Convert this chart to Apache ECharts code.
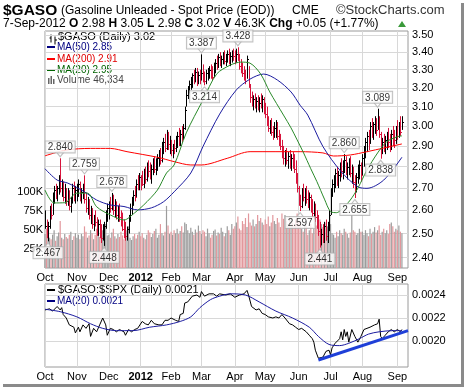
<!DOCTYPE html>
<html><head><meta charset="utf-8">
<script src="https://cdn.jsdelivr.net/npm/echarts@6/dist/echarts.min.js"></script>
<style>html,body{margin:0;padding:0;background:#fff}#c{width:464px;height:387px}</style>
</head><body><div id="c"></div>
<script>
// ---------- categories ----------
const monthLabels = ['Oct','Nov','Dec','2012','Feb','Mar','Apr','May','Jun','Jul','Aug','Sep'];
const monthDays   = [21,21,21,20,20,22,20,22,21,21,23,4];   // trading days per month (Oct 2011 .. 7-Sep-2012)
const extraSlots  = 4;                                       // empty days at right edge

// ---------- daily price bars ($GASO) ----------
const high = [
 2.60,2.56,2.55,2.62,2.63,2.68,2.71,2.72,2.71,2.76,2.84,2.74,2.73,2.72,2.70,2.70,2.69,2.66,2.72,2.73,2.71,
 2.72,2.74,2.73,2.70,2.72,2.759,2.68,2.66,2.65,2.62,2.61,2.58,2.60,2.57,2.56,2.56,2.54,2.54,2.55,2.60,2.63,
 2.64,2.66,2.678,2.67,2.65,2.64,2.62,2.63,2.60,2.59,2.56,2.55,2.53,2.58,2.63,2.66,2.69,2.71,2.74,2.76,2.77,
 2.76,2.78,2.79,2.80,2.82,2.83,2.82,2.81,2.84,2.85,2.84,2.86,2.88,2.89,2.92,2.94,2.96,2.98,2.97,2.95,
 2.93,2.91,2.93,2.95,2.97,2.99,2.98,3.00,3.01,3.10,3.19,3.21,3.24,3.26,3.28,3.30,3.31,3.31,3.29,3.30,
 3.387,3.33,3.29,3.30,3.31,3.32,3.33,3.32,3.34,3.36,3.38,3.39,3.40,3.38,3.40,3.41,3.39,3.41,3.42,3.40,3.41,3.42,
 3.41,3.42,3.428,3.39,3.36,3.34,3.32,3.30,3.38,3.32,3.22,3.18,3.16,3.17,3.15,3.16,3.15,3.17,3.16,3.15,
 3.12,3.10,3.05,3.03,3.04,3.00,3.02,3.03,3.02,2.98,2.96,2.93,2.90,2.88,2.89,2.87,2.88,2.86,2.87,2.86,2.83,2.77,
 2.71,2.67,2.70,2.72,2.70,2.71,2.69,2.68,2.67,2.65,2.64,2.63,2.60,2.58,2.55,2.52,2.54,2.55,2.56,2.55,2.60,
 2.70,2.74,2.76,2.79,2.80,2.78,2.82,2.84,2.83,2.860,2.85,2.82,2.84,2.85,2.81,2.80,2.76,2.77,2.81,2.83,2.82,
 2.86,2.90,2.94,2.97,2.98,3.02,3.04,3.02,3.05,3.04,3.089,3.05,2.97,2.94,2.96,2.95,2.97,2.99,2.96,2.98,3.00,2.98,3.00,
 3.03,3.02,3.05,3.05
];
const low = [
 2.52,2.48,2.467,2.52,2.56,2.58,2.63,2.65,2.64,2.67,2.68,2.66,2.64,2.63,2.62,2.62,2.60,2.59,2.63,2.64,2.63,
 2.64,2.66,2.64,2.63,2.65,2.63,2.59,2.58,2.56,2.54,2.52,2.51,2.53,2.49,2.49,2.48,2.46,2.47,2.448,2.52,2.55,
 2.56,2.59,2.60,2.58,2.57,2.56,2.55,2.55,2.53,2.51,2.48,2.47,2.47,2.50,2.55,2.58,2.62,2.64,2.66,2.69,2.69,
 2.69,2.71,2.70,2.72,2.73,2.75,2.74,2.72,2.76,2.77,2.76,2.78,2.80,2.81,2.82,2.86,2.87,2.88,2.88,2.86,
 2.85,2.84,2.86,2.87,2.89,2.90,2.90,2.92,2.93,2.98,3.10,3.14,3.17,3.19,3.20,3.22,3.23,3.21,3.22,3.22,
 3.24,3.23,3.214,3.22,3.24,3.25,3.25,3.24,3.26,3.28,3.30,3.31,3.32,3.31,3.33,3.33,3.32,3.34,3.33,3.32,3.34,3.35,
 3.33,3.34,3.35,3.30,3.28,3.26,3.24,3.22,3.25,3.20,3.12,3.10,3.08,3.09,3.07,3.08,3.07,3.09,3.07,3.06,
 3.04,3.00,2.97,2.96,2.95,2.93,2.94,2.94,2.93,2.90,2.88,2.84,2.81,2.80,2.81,2.79,2.79,2.78,2.79,2.77,2.72,2.68,
 2.62,2.597,2.61,2.64,2.62,2.63,2.61,2.60,2.59,2.57,2.56,2.55,2.52,2.49,2.441,2.45,2.46,2.46,2.47,2.46,2.51,
 2.58,2.66,2.68,2.70,2.71,2.70,2.73,2.75,2.74,2.77,2.76,2.74,2.76,2.75,2.72,2.70,2.655,2.68,2.72,2.74,2.73,
 2.76,2.80,2.84,2.87,2.88,2.91,2.94,2.93,2.96,2.95,2.98,2.94,2.838,2.86,2.87,2.86,2.88,2.89,2.87,2.88,2.90,2.89,2.91,
 2.93,2.94,2.95,2.98
];
const close = [
 2.53,2.50,2.53,2.60,2.58,2.66,2.69,2.67,2.70,2.74,2.70,2.71,2.66,2.68,2.64,2.67,2.62,2.64,2.70,2.66,2.69,
 2.70,2.72,2.66,2.68,2.71,2.65,2.61,2.63,2.58,2.60,2.54,2.56,2.55,2.51,2.54,2.50,2.48,2.49,2.53,2.58,2.61,
 2.62,2.61,2.65,2.60,2.63,2.58,2.60,2.57,2.55,2.52,2.50,2.49,2.52,2.57,2.61,2.64,2.67,2.66,2.72,2.71,2.75,
 2.74,2.72,2.77,2.74,2.80,2.78,2.76,2.79,2.82,2.79,2.82,2.84,2.86,2.83,2.90,2.92,2.89,2.95,2.91,2.93,
 2.88,2.90,2.89,2.93,2.95,2.92,2.96,2.94,2.99,3.08,3.16,3.19,3.22,3.24,3.27,3.25,3.29,3.23,3.27,3.26,
 3.28,3.25,3.24,3.28,3.29,3.30,3.27,3.26,3.32,3.34,3.32,3.37,3.35,3.36,3.38,3.35,3.37,3.39,3.36,3.38,3.40,3.38,
 3.36,3.39,3.37,3.32,3.30,3.28,3.26,3.24,3.36,3.22,3.15,3.13,3.14,3.11,3.13,3.10,3.12,3.11,3.14,3.09,
 3.06,3.02,2.99,3.01,2.97,2.95,2.99,3.01,2.95,2.93,2.90,2.86,2.84,2.86,2.83,2.85,2.81,2.84,2.82,2.79,2.74,2.70,
 2.64,2.62,2.68,2.66,2.69,2.65,2.63,2.66,2.61,2.59,2.62,2.57,2.54,2.51,2.47,2.50,2.48,2.53,2.49,2.52,2.58,
 2.68,2.72,2.74,2.77,2.73,2.76,2.80,2.78,2.81,2.83,2.78,2.80,2.82,2.77,2.79,2.73,2.70,2.75,2.79,2.81,2.76,
 2.84,2.88,2.92,2.95,2.93,3.00,2.97,3.01,3.03,2.98,3.04,2.96,2.90,2.92,2.89,2.93,2.95,2.92,2.90,2.96,2.94,2.93,2.97,
 2.95,3.00,2.97,3.02
];
// daily volume, thousands
const volumeK = [
 45,52,58,40,38,44,50,36,42,47,62,40,38,45,41,39,44,48,37,42,46,
 40,44,38,45,42,55,48,40,43,50,46,38,44,52,47,41,45,50,36,58,43,
 44,40,47,52,42,39,45,41,48,43,38,46,50,55,40,37,42,45,39,44,48,
 42,46,40,38,44,50,47,41,45,49,52,40,44,58,46,43,48,82,56,45,
 48,44,50,46,52,45,49,55,47,60,58,50,46,53,48,44,51,47,56,49,
 45,50,48,42,52,46,40,44,49,51,43,47,45,53,48,42,46,55,50,44,58,52,
 55,60,68,52,50,62,58,66,54,72,60,56,64,55,58,70,62,66,60,57,
 64,58,68,55,60,70,62,58,66,60,54,72,65,70,62,58,68,66,60,56,64,72,
 62,58,52,48,60,55,44,50,58,46,52,62,56,60,64,58,54,48,60,55,50,
 58,46,44,40,48,42,50,46,44,52,48,45,40,47,70,50,48,44,46,52,48,
 48,44,50,46,42,52,45,48,54,47,50,56,44,48,52,46,50,45,58,60,55,48,52,
 50,56,48,46
];
// moving averages: [day index, value]
const ma50 = [[0,2.79],[8,2.737],[15,2.723],[26,2.683],[34,2.646],[43,2.624],[52,2.617],[61,2.602],[70,2.611],[78,2.638],[85,2.683],[96,2.77],[104,2.897],[115,3.061],[126,3.189],[135,3.248],[144,3.276],[153,3.243],[162,3.178],[168,3.107],[173,3.056],[183,2.897],[195,2.776],[206,2.706],[212,2.699],[223,2.737],[235,2.845]];
const ma200 = [[0,2.852],[14,2.88],[30,2.888],[43,2.888],[54,2.872],[74,2.845],[85,2.824],[96,2.808],[103,2.808],[120,2.84],[135,2.872],[168,2.872],[183,2.866],[190,2.851],[201,2.856],[212,2.872],[223,2.89],[235,2.91]];
const ma20 = [[0,2.691],[6,2.633],[13,2.634],[21,2.677],[28,2.677],[34,2.616],[43,2.58],[52,2.558],[59,2.589],[65,2.624],[74,2.691],[80,2.77],[85,2.808],[93,2.965],[104,3.135],[113,3.276],[122,3.326],[129,3.343],[135,3.337],[142,3.276],[148,3.178],[157,3.056],[162,2.99],[166,2.93],[170,2.87],[175,2.79],[179,2.73],[184,2.65],[188,2.595],[192,2.59],[195,2.602],[201,2.646],[206,2.70],[212,2.784],[219,2.866],[225,2.921],[232,2.946],[235,2.95]];
// swing-point callouts
const calloutIdx  = [2,10,26,39,44,103,105,127,168,181,197,204,219,221];
const calloutVal  = [2.467,2.840,2.759,2.448,2.678,3.387,3.214,3.428,2.597,2.441,2.860,2.655,3.089,2.838];
const calloutSide = ['low','high','high','low','high','high','low','high','low','low','high','low','high','low'];
// $GASO:$SPX ratio and its MA(20): [day index, value]
const ratio = [[0,0.00227],[3,0.00228],[5,0.00226],[8,0.00230],[10,0.00227],[11,0.00229],[12,0.00223],[14,0.00220],[16,0.00214],[19,0.00212],[20,0.00207],[22,0.00212],[23,0.00208],[25,0.00214],[27,0.00211],[29,0.00215],[30,0.00204],[32,0.00211],[34,0.00208],[36,0.00214],[38,0.00220],[40,0.00214],[41,0.00205],[43,0.00211],[45,0.00210],[47,0.00208],[49,0.00210],[52,0.00208],[53,0.00205],[55,0.00210],[57,0.00208],[59,0.00210],[61,0.00211],[64,0.00217],[66,0.00215],[68,0.00214],[70,0.00218],[72,0.00215],[75,0.00214],[77,0.00214],[79,0.00218],[81,0.00218],[83,0.00220],[86,0.00218],[88,0.00217],[89,0.00223],[91,0.00224],[92,0.00233],[94,0.00234],[97,0.00239],[100,0.00240],[102,0.00238],[103,0.00243],[105,0.00239],[108,0.00241],[111,0.00241],[113,0.00239],[115,0.00241],[119,0.00240],[122,0.00241],[123,0.00240],[125,0.00238],[128,0.00240],[131,0.00241],[133,0.00244],[134,0.00240],[136,0.00230],[139,0.00227],[141,0.00228],[143,0.00224],[145,0.00223],[147,0.00221],[150,0.00220],[152,0.00221],[154,0.00220],[156,0.00223],[158,0.00220],[161,0.00215],[163,0.00214],[165,0.00212],[167,0.00210],[169,0.00211],[172,0.00208],[174,0.00205],[176,0.00202],[177,0.00199],[178,0.00192],[180,0.00185],[181,0.00186],[183,0.00186],[185,0.00191],[187,0.00192],[188,0.00188],[189,0.00194],[191,0.00198],[194,0.00202],[195,0.00208],[196,0.00201],[197,0.00210],[198,0.00204],[199,0.00208],[200,0.00199],[202,0.00210],[204,0.00204],[206,0.00199],[208,0.00204],[210,0.00210],[212,0.00211],[214,0.00212],[217,0.00214],[219,0.00215],[220,0.00219],[221,0.00204],[222,0.00202],[224,0.00205],[226,0.00208],[228,0.00210],[230,0.00208],[232,0.00210],[233,0.00211],[234,0.00208],[235,0.00210]];
const ratioMA = [[0,0.002276],[10,0.002255],[21,0.00221],[30,0.00215],[38,0.00211],[47,0.00209],[58,0.00209],[69,0.00212],[80,0.00214],[89,0.00217],[96,0.00221],[102,0.00229],[109,0.00236],[115,0.00239],[122,0.00241],[132,0.00240],[141,0.00234],[152,0.00226],[163,0.00220],[174,0.00212],[180,0.00204],[187,0.00197],[194,0.00196],[200,0.00198],[207,0.00202],[213,0.00206],[220,0.00208],[229,0.00209],[235,0.00209]];
const trendLine = [[180,0.001835],[239,0.00209]];
// axis ticks
const priceTicks = [2.40,2.50,2.60,2.70,2.80,2.90,3.00,3.10,3.20,3.30,3.40,3.50];
const volTicks = [25000,50000,75000,100000];
const ratioTicks = [0.0020,0.0022,0.0024];

// ---------- build ----------
const FONT = 'Liberation Sans, Arial, sans-serif';
const RED = '#d7143c', BLK = '#000', PINK = '#e2979c', GRAY = '#9c9c9c', GRID = '#d8d8d8';
const nDays = close.length;
const N = nDays + extraSlots;
const cats = []; for (let i = 0; i < N; i++) cats.push(String(i));
const monthStart = {}; { let s = 0; monthLabels.forEach((m, k) => { monthStart[s] = m; s += monthDays[k]; }); }
const isStart = (i) => monthStart[i] !== undefined;
const L = Math.log;
const down = close.map((c, i) => i > 0 && c < close[i - 1]);

const ohlc = close.map((c, i) => [i, L(low[i]), L(high[i]), L(c), down[i] ? 1 : 0]);
const vol = volumeK.map((v, i) => ({ value: v * 1000, itemStyle: { color: down[i] ? PINK : GRAY } }));
const lnPairs = (arr) => arr.map(p => [p[0], L(p[1])]);

const callouts = calloutIdx.map((idx, k) => {
  const hi = calloutSide[k] === 'high';
  return {
    value: [idx, L(calloutVal[k])],
    name: calloutVal[k].toFixed(3),
    symbolRotate: hi ? 180 : 0,
    symbolOffset: [0, hi ? -4 : 4],
    label: { position: hi ? 'top' : 'bottom', distance: -1 }
  };
});

const xAxisBase = (gi) => ({
  gridIndex: gi, type: 'category', data: cats, boundaryGap: false,
  axisLine: { show: false }, axisTick: { show: false },
  axisLabel: {
    interval: (i) => isStart(i), margin: 4, fontFamily: FONT, fontSize: 11, color: '#000',
    formatter: (v) => { const m = monthStart[+v]; return m === '2012' ? '{b|2012}' : m; },
    rich: { b: { fontWeight: 'bold', fontSize: 11, fontFamily: FONT, color: '#000' } }
  },
  splitLine: { show: true, interval: (i) => isStart(i), lineStyle: { color: GRID, width: 1 } }
});

const chart = echarts.init(document.getElementById('c'), null, { renderer: 'canvas' });
chart.setOption({
  animation: false,
  backgroundColor: '#fff',
  grid: [
    { left: 45, right: 56, top: 31, height: 237, show: true, borderColor: '#9a9a9a', borderWidth: 1, backgroundColor: 'transparent' },
    { left: 45, right: 56, top: 284, height: 83, show: true, borderColor: '#9a9a9a', borderWidth: 1, backgroundColor: 'transparent' }
  ],
  xAxis: [xAxisBase(0), xAxisBase(1)],
  yAxis: [
    { gridIndex: 0, type: 'value', position: 'right', min: L(2.358), max: L(3.524),
      axisLine: { show: false }, axisTick: { show: false, customValues: priceTicks.map(L) },
      axisLabel: { customValues: priceTicks.map(L), formatter: (v) => Math.exp(v).toFixed(2), margin: 4, fontFamily: FONT, fontSize: 11, color: '#000' },
      splitLine: { show: true, lineStyle: { color: GRID } } },
    { gridIndex: 0, type: 'value', position: 'left', min: 0, max: 313000,
      axisLine: { show: false }, axisTick: { show: false, customValues: volTicks },
      axisLabel: { customValues: volTicks, formatter: (v) => (v / 1000) + 'K', margin: 2, fontFamily: FONT, fontSize: 11, color: '#000' },
      splitLine: { show: false } },
    { gridIndex: 1, type: 'value', position: 'right', min: 0.0017739, max: 0.0024957,
      axisLine: { show: false }, axisTick: { show: false, customValues: ratioTicks },
      axisLabel: { customValues: ratioTicks, formatter: (v) => v.toFixed(4), margin: 4, fontFamily: FONT, fontSize: 11, color: '#000' },
      splitLine: { show: true, lineStyle: { color: GRID } } }
  ],
  series: [
    { type: 'bar', xAxisIndex: 0, yAxisIndex: 1, data: vol, barWidth: 1.2, silent: true, z: 1 },
    { type: 'custom', xAxisIndex: 0, yAxisIndex: 0, data: ohlc, silent: true, z: 3,
      encode: { x: 0, y: [1, 2, 3] },
      renderItem: (params, api) => {
        const lo = api.coord([api.value(0), api.value(1)]);
        const hi = api.coord([api.value(0), api.value(2)]);
        const cl = api.coord([api.value(0), api.value(3)]);
        const col = api.value(4) ? RED : BLK;
        const x = Math.round(lo[0]) + 0.5;
        return { type: 'group', children: [
          { type: 'line', shape: { x1: x, y1: hi[1], x2: x, y2: lo[1] }, style: { stroke: col, lineWidth: 1 } },
          { type: 'line', shape: { x1: x, y1: Math.round(cl[1]) + 0.5, x2: x + 1.5, y2: Math.round(cl[1]) + 0.5 }, style: { stroke: col, lineWidth: 1 } }
        ] };
      } },
    { type: 'line', xAxisIndex: 0, yAxisIndex: 0, data: lnPairs(ma200), smooth: 0.3, showSymbol: false, silent: true, z: 4, lineStyle: { color: '#ff0000', width: 1 } },
    { type: 'line', xAxisIndex: 0, yAxisIndex: 0, data: lnPairs(ma50), smooth: 0.3, showSymbol: false, silent: true, z: 4, lineStyle: { color: '#1c1ca0', width: 1 } },
    { type: 'line', xAxisIndex: 0, yAxisIndex: 0, data: lnPairs(ma20), smooth: 0.3, showSymbol: false, silent: true, z: 4, lineStyle: { color: '#2a8a2a', width: 1 } },
    { type: 'scatter', xAxisIndex: 0, yAxisIndex: 0, data: callouts, symbol: 'triangle', symbolSize: [8, 5], silent: true, z: 6,
      itemStyle: { color: '#fff', borderColor: '#b0b0b0', borderWidth: 1 },
      label: { show: true, formatter: (p) => p.name, fontFamily: FONT, fontSize: 10, color: '#000',
        backgroundColor: '#fff', borderColor: '#b0b0b0', borderWidth: 1, padding: [1, 2, 0, 2], lineHeight: 10 } },
    { type: 'line', xAxisIndex: 1, yAxisIndex: 2, data: ratio, showSymbol: false, silent: true, z: 3, lineStyle: { color: '#000', width: 1 } },
    { type: 'line', xAxisIndex: 1, yAxisIndex: 2, data: ratioMA, smooth: 0.3, showSymbol: false, silent: true, z: 4, lineStyle: { color: '#1c1ca0', width: 1 } },
    { type: 'line', xAxisIndex: 1, yAxisIndex: 2, data: trendLine, showSymbol: false, silent: true, z: 5, lineStyle: { color: '#1f3fd8', width: 3 } }
  ],
  graphic: [
    { type: 'text', left: 3, top: 3, style: { text: '$GASO', font: 'bold 15.5px ' + FONT, fill: '#000' } },
    { type: 'text', left: 61, top: 5, style: { text: '(Gasoline Unleaded - Spot Price (EOD))', font: '12px ' + FONT, fill: '#000' } },
    { type: 'text', left: 292, top: 5, style: { text: 'CME', font: '12px ' + FONT, fill: '#000' } },
    { type: 'text', left: 336, top: 4, style: { text: '\u00A9StockCharts.com', font: '13px ' + FONT, fill: '#333' } },
    { type: 'text', left: 3, top: 18, style: {
        text: '7-Sep-2012 {b|O} 2.98 {b|H} 3.05 {b|L} 2.98 {b|C} 3.02 {b|V} 46.3K {b|Chg} +0.05 (+1.77%)',
        font: '12px ' + FONT, fill: '#000', rich: { b: { fontWeight: 'bold', fontSize: 12, fontFamily: FONT, fill: '#000' } } } },
    { type: 'polygon', shape: { points: [[398, 27], [406, 27], [402, 21]] }, style: { fill: '#3a9a3a' } },
    // top legend
    { type: 'group', left: 47, top: 32, children: [
      { type: 'line', shape: { x1: 1.5, y1: 0, x2: 1.5, y2: 8 }, style: { stroke: '#000', lineWidth: 1 } },
      { type: 'line', shape: { x1: 0, y1: 3.5, x2: 1.5, y2: 3.5 }, style: { stroke: '#000', lineWidth: 1 } },
      { type: 'line', shape: { x1: 5.5, y1: 2, x2: 5.5, y2: 10 }, style: { stroke: '#000', lineWidth: 1 } },
      { type: 'line', shape: { x1: 5.5, y1: 5.5, x2: 7.5, y2: 5.5 }, style: { stroke: '#000', lineWidth: 1 } }
    ] },
    { type: 'text', left: 58, top: 31, style: { text: '$GASO (Daily) 3.02', font: '11px ' + FONT, fill: '#000' } },
    { type: 'rect', shape: { x: 47, y: 46, width: 8, height: 2 }, style: { fill: '#000080' } },
    { type: 'text', left: 57, top: 42, style: { text: 'MA(50) 2.85', font: '10px ' + FONT, fill: '#000080' } },
    { type: 'rect', shape: { x: 47, y: 58, width: 8, height: 2 }, style: { fill: '#ff0000' } },
    { type: 'text', left: 57, top: 54, style: { text: 'MA(200) 2.91', font: '10px ' + FONT, fill: '#e00000' } },
    { type: 'rect', shape: { x: 47, y: 69, width: 8, height: 2 }, style: { fill: '#006400' } },
    { type: 'text', left: 57, top: 65, style: { text: 'MA(20) 2.95', font: '10px ' + FONT, fill: '#006400' } },
    { type: 'rect', shape: { x: 48, y: 78, width: 1.5, height: 6 }, style: { fill: '#666' } },
    { type: 'rect', shape: { x: 50.5, y: 76, width: 1.5, height: 8 }, style: { fill: '#666' } },
    { type: 'rect', shape: { x: 53, y: 79, width: 1.5, height: 5 }, style: { fill: '#666' } },
    { type: 'text', left: 57, top: 75, style: { text: 'Volume 46,334', font: '10px ' + FONT, fill: '#444' } },
    // bottom legend
    { type: 'rect', shape: { x: 47, y: 289, width: 8, height: 2 }, style: { fill: '#000' } },
    { type: 'text', left: 58, top: 284, style: { text: '$GASO:$SPX (Daily) 0.0021', font: '11px ' + FONT, fill: '#000' } },
    { type: 'rect', shape: { x: 47, y: 300, width: 8, height: 2 }, style: { fill: '#000080' } },
    { type: 'text', left: 57, top: 296, style: { text: 'MA(20) 0.0021', font: '10px ' + FONT, fill: '#000080' } },
    // frame shadow
    { type: 'rect', shape: { x: 461, y: 3, width: 3, height: 384 }, style: { fill: '#8a8a8a' } },
    { type: 'rect', shape: { x: 3, y: 384, width: 461, height: 3 }, style: { fill: '#8a8a8a' } }
  ]
});
</script></body></html>
